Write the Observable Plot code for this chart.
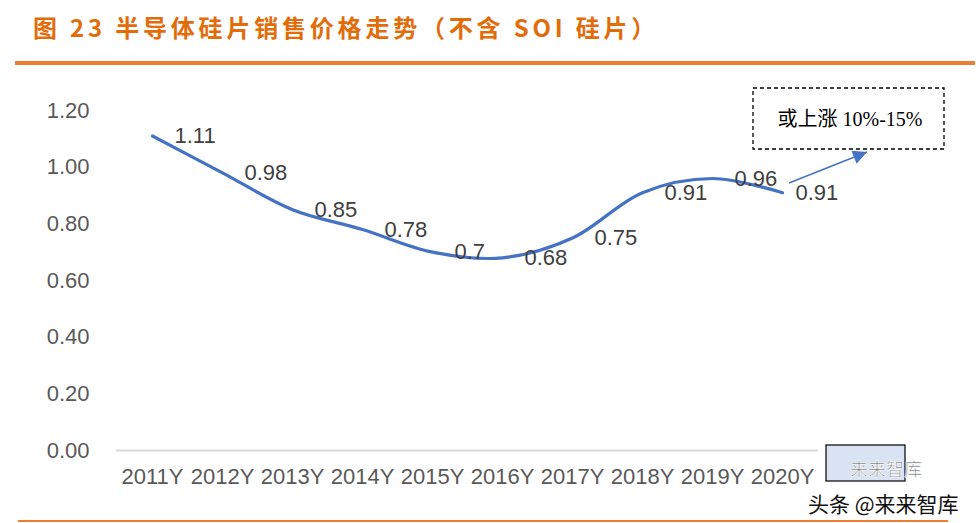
<!DOCTYPE html>
<html>
<head>
<meta charset="utf-8">
<script src="https://cdn.jsdelivr.net/npm/d3@7"></script>
<script src="https://cdn.jsdelivr.net/npm/@observablehq/plot@0.6"></script>
<style>
  html, body { margin: 0; padding: 0; background: #fff; }
  #wrap { position: relative; width: 976px; height: 523px; overflow: hidden; background: #fff; }
  #title { position: absolute; left: 33px; top: 10px; font-family: "Noto Sans CJK SC", sans-serif; font-weight: 700; font-size: 24px; letter-spacing: 3.8px; color: #E36C0A; white-space: pre; line-height: 34px; }
  #topline { position: absolute; left: 15px; top: 61px; width: 960px; height: 4px; background: #ED7D31; }
  #botline { position: absolute; left: 18px; top: 520px; width: 930px; height: 2px; background: #ED7D31; }
  #chart { position: absolute; left: 0; top: 0; }
  #overlay { position: absolute; left: 0; top: 0; pointer-events: none; }
</style>
</head>
<body>
<div id="wrap">
  <div id="title"></div>
  <div id="topline"></div>
  <div id="chart"></div>
  <svg id="overlay" width="976" height="523"></svg>
  <div id="botline"></div>
</div>
<script>
const titleText = "图 23 半导体硅片销售价格走势（不含 SOI 硅片）";
const years = ["2011Y","2012Y","2013Y","2014Y","2015Y","2016Y","2017Y","2018Y","2019Y","2020Y"];
const prices = [1.11, 0.98, 0.85, 0.78, 0.70, 0.68, 0.75, 0.91, 0.96, 0.91];
const priceLabels = ["1.11","0.98","0.85","0.78","0.7","0.68","0.75","0.91","0.96","0.91"];
const yTicks = [0, 0.2, 0.4, 0.6, 0.8, 1.0, 1.2];
const noteText = "或上涨 10%-15%";
const watermarkMain = "头条 @来来智库";
const watermarkSub = "来来智库";

document.getElementById("title").textContent = titleText;

const data = years.map((y, i) => ({year: y, price: prices[i], label: priceLabels[i], last: i === years.length - 1}));

const chart = Plot.plot({
  width: 976,
  height: 523,
  marginLeft: 116,
  marginRight: 158,
  marginTop: 110,
  marginBottom: 73,
  x: {type: "point", domain: years, padding: 0.5, tickSize: 0, tickPadding: 18, label: null},
  y: {domain: [0, 1.2], ticks: yTicks, tickFormat: ".2f", tickSize: 0, tickPadding: 27, label: null},
  style: {fontFamily: "'Liberation Sans', Arial, sans-serif", fontSize: "22px", color: "#595959", background: "transparent"},
  marks: [
    Plot.ruleY([0], {stroke: "#D9D9D9", strokeWidth: 2}),
    Plot.line(data, {x: "year", y: "price", curve: "catmull-rom", stroke: "#4472C4", strokeWidth: 3.2}),
    Plot.text(data.filter(d => !d.last), {x: "year", y: "price", text: "label", textAnchor: "start", dx: 22, fill: "#404040", fontSize: 22}),
    Plot.text(data.filter(d => d.last), {x: "year", y: "price", text: "label", textAnchor: "start", dx: 13, fill: "#404040", fontSize: 22})
  ]
});
document.getElementById("chart").appendChild(chart);

// annotations
const ov = d3.select("#overlay");
const defs = ov.append("defs");
defs.append("marker").attr("id", "ah").attr("viewBox", "0 0 10 10").attr("refX", 10).attr("refY", 5)
  .attr("markerWidth", 18).attr("markerHeight", 14).attr("markerUnits", "userSpaceOnUse").attr("orient", "auto")
  .append("path").attr("d", "M0,0 L10,5 L0,10 Z").attr("fill", "#4472C4");

ov.append("line").attr("x1", 789).attr("y1", 183).attr("x2", 867).attr("y2", 152)
  .attr("stroke", "#4472C4").attr("stroke-width", 1.5).attr("marker-end", "url(#ah)");

ov.append("rect").attr("x", 753).attr("y", 88).attr("width", 191).attr("height", 61)
  .attr("fill", "#fff").attr("stroke", "#000").attr("stroke-width", 1.3).attr("stroke-dasharray", "4,3");
ov.append("text").attr("x", 850).attr("y", 121).attr("text-anchor", "middle").attr("dominant-baseline", "middle")
  .attr("font-family", "'Liberation Serif', 'Noto Sans CJK SC', serif").attr("font-size", 20).attr("fill", "#000")
  .text(noteText);

ov.append("rect").attr("x", 826).attr("y", 445).attr("width", 79).attr("height", 36)
  .attr("fill", "#DAE3F3").attr("stroke", "#000").attr("stroke-width", 1.2);

ov.append("text").attr("x", 850).attr("y", 476)
  .attr("font-family", "'Noto Sans CJK SC', sans-serif").attr("font-size", 18).attr("fill", "#777")
  .attr("stroke", "#fff").attr("stroke-width", 0.6).text(watermarkSub);
ov.append("text").attr("x", 808).attr("y", 512)
  .attr("font-family", "'Noto Sans CJK SC', sans-serif").attr("font-size", 21).attr("fill", "#111")
  .attr("stroke", "#fff").attr("stroke-width", 0.8).attr("paint-order", "stroke").text(watermarkMain);
</script>
</body>
</html>
